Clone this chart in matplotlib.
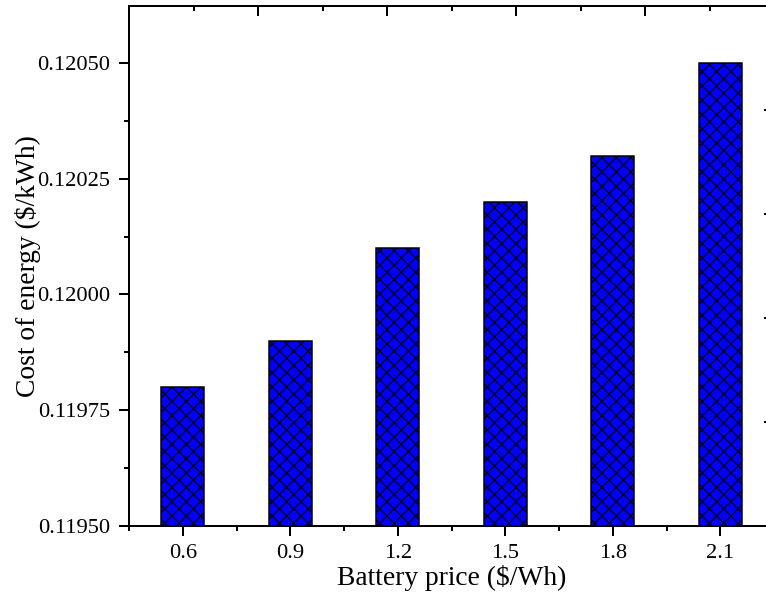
import matplotlib
matplotlib.use("Agg")
import matplotlib.pyplot as plt
from matplotlib.ticker import MultipleLocator, FormatStrFormatter

battery_price = [0.6, 0.9, 1.2, 1.5, 1.8, 2.1]
cost_of_energy = [0.11980, 0.11990, 0.12010, 0.12020, 0.12030, 0.12050]
ytick_values = [0.11950, 0.11975, 0.12000, 0.12025, 0.12050]
xlabel = "Battery price ($/Wh)"
ylabel = "Cost of energy ($/kWh)"

DPI = 86
PX = 72.0 / DPI
plt.rcParams['font.family'] = ['Liberation Serif', 'DejaVu Serif']
plt.rcParams['hatch.linewidth'] = 1.0

fig = plt.figure(figsize=(766 / DPI, 596 / DPI), dpi=DPI)
W, H = 766.0, 596.0
left, right, top, bottom = 129, 774, 6, 526
ax = fig.add_axes([left / W, 1 - bottom / H, (right - left) / W, (bottom - top) / H])

ax.bar(battery_price, cost_of_energy, width=0.12, color='#0000FF',
       edgecolor='black', linewidth=1.5 * PX, hatch='xx', zorder=2)

ax.set_xlim(0.45, 2.25)
ax.set_ylim(0.11950, 0.120623)
ax.set_xticks(battery_price)
ax.set_xticklabels([f"{v:.1f}" for v in battery_price])
ax.xaxis.set_minor_locator(MultipleLocator(0.15))
ax.set_yticks(ytick_values)
ax.yaxis.set_major_formatter(FormatStrFormatter('%.5f'))
ax.yaxis.set_minor_locator(MultipleLocator(0.000125))

for s in ax.spines.values():
    s.set_linewidth(2 * PX)

ax.tick_params(which='major', direction='out', length=10 * PX, width=2 * PX,
               labelsize=22.5 * PX, top=False, right=False)
ax.tick_params(axis='x', which='major', pad=8 * PX)
ax.tick_params(axis='y', which='major', pad=9 * PX)
ax.tick_params(which='minor', direction='out', length=5 * PX, width=2 * PX,
               top=False, right=False)

ax.set_xlabel(xlabel, fontsize=27.5 * PX, labelpad=2)
ax.set_ylabel(ylabel, fontsize=27.5 * PX, labelpad=-3.5)

# secondary top axis ticks (inward)
axt = ax.twiny()
axt.set_xlim(0, 5)
axt.xaxis.set_major_locator(MultipleLocator(1))
axt.xaxis.set_minor_locator(MultipleLocator(0.5))
axt.tick_params(which='major', direction='in', length=10 * PX, width=2 * PX,
                labeltop=False)
axt.tick_params(which='minor', direction='in', length=5 * PX, width=2 * PX)

# secondary right axis ticks (inward)
axr = ax.twinx()
axr.set_ylim(0, 5)
axr.yaxis.set_major_locator(MultipleLocator(1))
axr.yaxis.set_minor_locator(MultipleLocator(0.5))
axr.tick_params(which='major', direction='in', length=10 * PX, width=2 * PX,
                labelright=False)
axr.tick_params(which='minor', direction='in', length=5 * PX, width=2 * PX)

fig.savefig("out.png", dpi=DPI)
